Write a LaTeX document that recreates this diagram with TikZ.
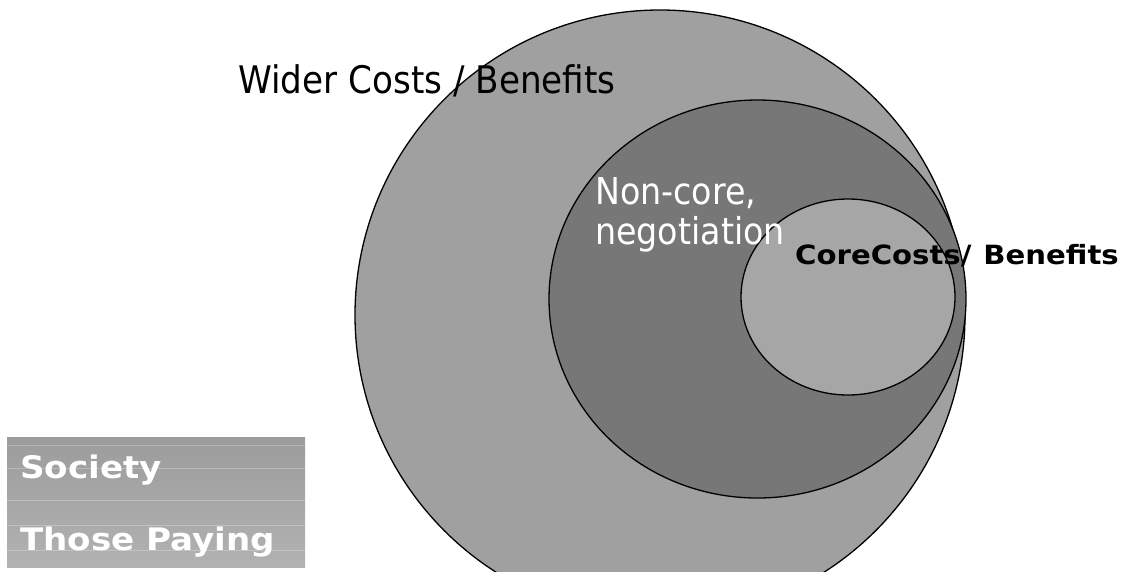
\documentclass[tikz,border=0pt]{standalone}
\usepackage{fontspec}
\setmainfont[FakeStretch=0.9]{DejaVu Sans}
\newfontfamily\widebold[FakeStretch=1.1]{DejaVu Sans Bold}
\usepackage{tikz}
\definecolor{outerfill}{RGB}{160,160,160}
\definecolor{midfill}{RGB}{119,119,119}
\definecolor{innerfill}{RGB}{166,166,166}
\definecolor{boxtop}{RGB}{156,156,156}
\definecolor{boxbottom}{RGB}{178,178,178}

\begin{document}
\begin{tikzpicture}[x=1pt, y=-1pt,
        ring/.style={draw=black, line width=1.3pt},
        lbl/.style={inner sep=0pt, anchor=base west}]

        \useasboundingbox (0,0) rectangle (1131,571);
        \clip (0,0) rectangle (1131,571);

        \draw[ring, fill=outerfill] (660,315) circle (305);
        \draw[ring, fill=midfill] (757.5,299) ellipse (208.5 and 199);
        \draw[ring, fill=innerfill] (848,297) ellipse (107 and 98);

        \node[lbl, font=\fontsize{38}{38}\selectfont] (wider) at (238,93) {Wider Costs / Benefits};
        \node[lbl, font=\fontsize{37}{40}\selectfont, text=white, align=left, anchor=north west] (noncore) at (595,177) {Non-core,\\negotiation};
        \node[lbl, font=\widebold\fontsize{26.5}{26}\selectfont] (core) at (795,264) {CoreCosts/\hspace{12pt}Benefits};

        % legend box
        \shade[top color=boxtop, bottom color=boxbottom] (7,437) rectangle (305,567);
        \foreach \y in {445,468,500,525,550}
            \draw[white, opacity=0.25, line width=0.8pt] (1,\y) -- (305,\y);
        \node[lbl, font=\widebold\fontsize{31}{31}\selectfont, text=white] (society) at (20,478) {Society};
        \node[lbl, font=\widebold\fontsize{31}{31}\selectfont, text=white] (paying) at (20,550) {Those Paying};
    \end{tikzpicture}
\end{document}
